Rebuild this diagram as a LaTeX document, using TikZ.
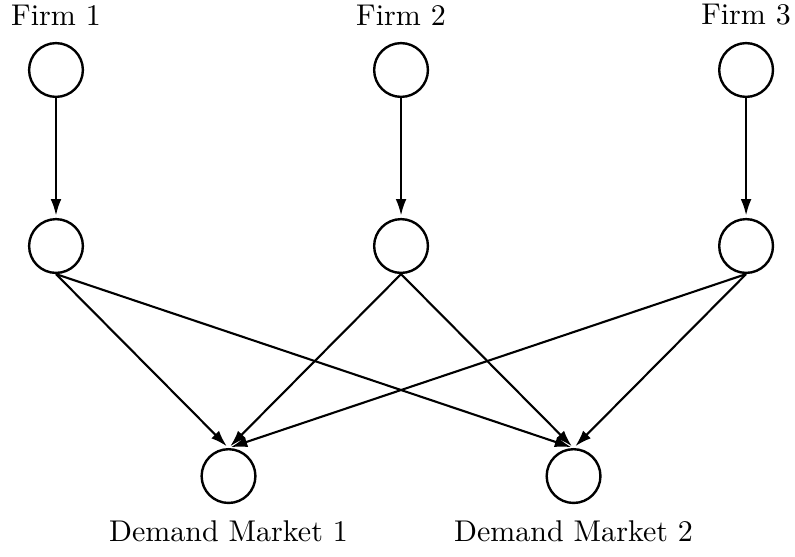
\documentclass[tikz,border=0pt]{standalone}
\usepackage{tikz}
\usetikzlibrary{arrows.meta,positioning}

\begin{document}
\begin{tikzpicture}[firm/.style={draw, circle, line width=0.8pt, minimum size=0.63cm, inner sep=0pt},
                    link/.style={line width=0.7pt, shorten >=0.8pt, -{Latex[length=5.5pt,width=3.6pt]}}]
                    \useasboundingbox (0,0) rectangle (9.313,6.514);
                    % firms and their second stage
                    \foreach \i in {1,2,3}{
                        \node[firm] (f\i) at ({0.656+(\i-1)*4.042},5.694) {};
                        \node[above=2pt of f\i] (fl\i) {Firm \i};
                        \node[firm] (m\i) at ({0.656+(\i-1)*4.042},3.632) {};
                        \draw[link] (f\i) -- (m\i);
                    }
                    % demand markets
                    \foreach \j in {1,2}{
                        \node[firm] (d\j) at ({2.677+(\j-1)*4.042},0.937) {};
                        \node[below=2pt of d\j] (dl\j) {Demand Market \j};
                        \foreach \i in {1,2,3}{
                            \draw[link] (m\i.south) -- (d\j.north);
                        }
                    }
                \end{tikzpicture}
\end{document}
